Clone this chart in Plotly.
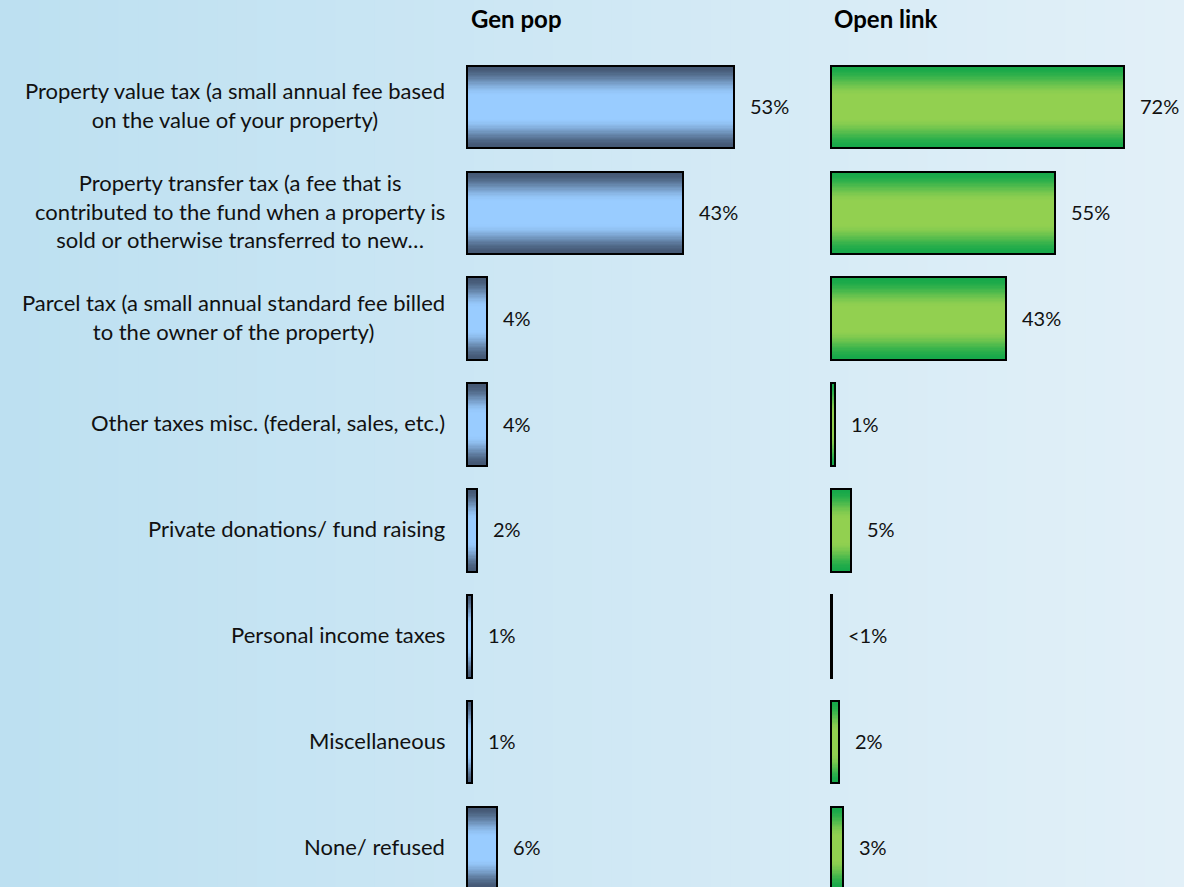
import plotly.graph_objects as go

# ---------------- data ----------------
categories = [
    "Property value tax (a small annual fee based<br>on the value of your property)",
    "Property transfer tax (a fee that is<br>contributed to the fund when a property is<br>sold or otherwise transferred to new…",
    "Parcel tax (a small annual standard fee billed<br>to the owner of the property)",
    "Other taxes misc. (federal, sales, etc.)",
    "Private donations/ fund raising",
    "Personal income taxes",
    "Miscellaneous",
    "None/ refused",
]
gen_pop = [53, 43, 4, 4, 2, 1, 1, 6]
gen_pop_labels = ["53%", "43%", "4%", "4%", "2%", "1%", "1%", "6%"]
open_link = [72, 55, 43, 1, 5, 0.3, 2, 3]
open_link_labels = ["72%", "55%", "43%", "1%", "5%", "<1%", "2%", "3%"]
panel_titles = ["Gen pop", "Open link"]

# ---------------- layout constants ----------------
W, H = 1184, 887
FONT = "Lato"
rows = list(range(len(categories)))
BAR_W = 0.78
N_LAYERS = 32


def lerp(c1, c2, t):
    return "rgb(%d,%d,%d)" % tuple(round(a + (b - a) * t) for a, b in zip(c1, c2))


def ease(t):
    t = max(0.0, min(1.0, t))
    return t * t * (3 - 2 * t)


BLUE_EDGE, BLUE_MID = (68, 88, 116), (153, 204, 255)
GREEN_EDGE, GREEN_MID = (22, 168, 74), (146, 208, 80)

fig = go.Figure()


def add_gradient_bars(values, xa, ya, edge, mid):
    for k in range(N_LAYERS):
        frac = 1 - k / N_LAYERS
        d = (1 - frac) / 2  # distance of this ring from the edge (fraction of bar height)
        col = lerp(edge, mid, ease(d / 0.36))
        fig.add_trace(go.Bar(
            x=values, y=rows, orientation="h",
            width=BAR_W * frac,
            marker=dict(color=col, line=dict(width=0)),
            xaxis=xa, yaxis=ya, hoverinfo="skip", showlegend=False,
        ))
    # outline
    fig.add_trace(go.Bar(
        x=values, y=rows, orientation="h", width=BAR_W,
        marker=dict(color="rgba(0,0,0,0)", line=dict(color="black", width=2)),
        xaxis=xa, yaxis=ya, hoverinfo="skip", showlegend=False,
    ))


add_gradient_bars(gen_pop, "x", "y", BLUE_EDGE, BLUE_MID)
add_gradient_bars(open_link, "x2", "y2", GREEN_EDGE, GREEN_MID)

annotations = []
for r, (v, t) in enumerate(zip(gen_pop, gen_pop_labels)):
    annotations.append(dict(x=v, y=r, xref="x", yref="y", text=t, showarrow=False,
                            xanchor="left", yanchor="middle", xshift=14, yshift=1,
                            font=dict(family=FONT, size=20, color="#111111")))
for r, (v, t) in enumerate(zip(open_link, open_link_labels)):
    annotations.append(dict(x=v, y=r, xref="x2", yref="y2", text=t, showarrow=False,
                            xanchor="left", yanchor="middle", xshift=14, yshift=1,
                            font=dict(family=FONT, size=20, color="#111111")))
for r, c in enumerate(categories):
    annotations.append(dict(x=447 / W, y=r, xref="paper", yref="y", text=c, showarrow=False,
                            xanchor="right", yanchor="middle", align="center", yshift=2,
                            font=dict(family=FONT, size=22, color="#111111")))
for px, title in zip([469, 832], panel_titles):
    annotations.append(dict(x=px / W, y=1 - 18 / H, xref="paper", yref="paper",
                            text="<b>%s</b>" % title, showarrow=False,
                            xanchor="left", yanchor="middle",
                            font=dict(family=FONT, size=24, color="#000000")))

# background gradient (left -> right)
BG_LEFT, BG_RIGHT = (189, 224, 241), (226, 240, 248)
shapes = []
NS = 60
for i in range(NS):
    shapes.append(dict(type="rect", xref="paper", yref="paper",
                       x0=i / NS, x1=(i + 1) / NS + 0.002, y0=0, y1=1,
                       fillcolor=lerp(BG_LEFT, BG_RIGHT, i / (NS - 1)),
                       line=dict(width=0), layer="below"))

# x scales (pixels per percent)
s1, s2 = 5.03, 4.07
x1_start_px, x1_end_px = 465, 805
x2_start_px, x2_end_px = 829, 1184
x1_zero_px, x2_zero_px = 467, 831

axis_common = dict(visible=False, showgrid=False, zeroline=False, fixedrange=True)
fig.update_layout(
    width=W, height=H,
    margin=dict(l=0, r=0, t=0, b=0),
    barmode="overlay", bargap=0,
    paper_bgcolor="#d3e9f5", plot_bgcolor="rgba(0,0,0,0)",
    showlegend=False,
    xaxis=dict(domain=[x1_start_px / W, x1_end_px / W],
               range=[(x1_start_px - x1_zero_px) / s1, (x1_end_px - x1_zero_px) / s1], **axis_common),
    xaxis2=dict(domain=[x2_start_px / W, x2_end_px / W],
                range=[(x2_start_px - x2_zero_px) / s2, (x2_end_px - x2_zero_px) / s2], **axis_common),
    yaxis=dict(range=[7.368, -1.01], **axis_common),
    yaxis2=dict(range=[7.368, -1.01], anchor="x2", **axis_common),
    annotations=annotations,
    shapes=shapes,
    font=dict(family=FONT),
)

fig.write_html(
    "out.html",
    config={"displayModeBar": False},
    post_script="document.body.style.margin='0';document.body.style.overflow='hidden';",
)
